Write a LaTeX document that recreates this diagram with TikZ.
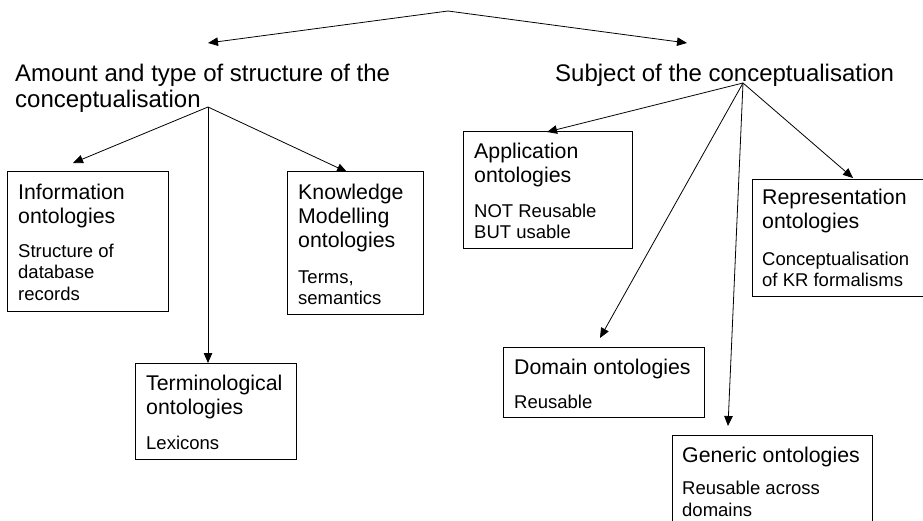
\documentclass[tikz,border=0pt]{standalone}
\usepackage{fontspec}
\setmainfont{Liberation Sans}
\usetikzlibrary{arrows.meta}
\begin{document}
\begin{tikzpicture}[x=1pt,y=-1pt,
  link/.style={line width=0.8pt, -{Triangle[length=10pt,width=8.5pt]}},
  catbox/.style={draw, line width=0.8pt, rectangle, inner sep=0pt, anchor=north west},
  % multi-line texts are placed by the baseline of their last line
  heading/.style={anchor=base west, inner sep=0pt, align=left, font=\fontsize{24}{26}\selectfont},
  boxtitle/.style={anchor=base west, inner sep=0pt, align=left, font=\fontsize{21.3}{24}\selectfont},
  boxnote/.style={anchor=base west, inner sep=0pt, align=left, font=\fontsize{18.5}{21.5}\selectfont}]

\useasboundingbox (0,0) rectangle (923,520);

% the two classification criteria
\node[heading] (amount) at (15,107) {Amount and type of structure of the\\conceptualisation};
\node[heading] (subject) at (555,81) {Subject of the conceptualisation};

% category boxes
\node[catbox, minimum width=161pt, minimum height=140pt] (info) at (7,171) {};
\node[catbox, minimum width=136pt, minimum height=143pt] (know) at (287,171) {};
\node[catbox, minimum width=161pt, minimum height=96pt]  (term) at (135,363) {};
\node[catbox, minimum width=169pt, minimum height=117pt] (appl) at (463,131) {};
\node[catbox, minimum width=180pt, minimum height=117pt] (repr) at (752,179) {};
\node[catbox, minimum width=201pt, minimum height=70pt]  (dom)  at (503,347) {};
\node[catbox, minimum width=200pt, minimum height=110pt] (gen)  at (672,435) {};

% box contents
\node[boxtitle] (infoT) at (18,223)  {Information\\ontologies};
\node[boxnote]  (infoN) at (18,300)  {Structure of\\database\\records};
\node[boxtitle] (knowT) at (298,247) {Knowledge\\Modelling\\ontologies};
\node[boxnote]  (knowN) at (298,304.5) {Terms,\\semantics};
\node[boxtitle] (termT) at (146,414) {Terminological\\ontologies};
\node[boxnote]  (termN) at (146,449) {Lexicons};
\node[boxtitle] (applT) at (474,182) {Application\\ontologies};
\node[boxnote]  (applN) at (474,238.5) {NOT Reusable\\BUT usable};
\node[boxtitle] (reprT) at (762,228) {Representation\\ontologies};
\node[boxnote]  (reprN) at (762,286.5) {Conceptualisation\\of KR formalisms};
\node[boxtitle] (domT)  at (514,374) {Domain ontologies};
\node[boxnote]  (domN)  at (514,408) {Reusable};
\node[boxtitle] (genT)  at (682,462) {Generic ontologies};
\node[boxnote]  (genN)  at (682,516) {Reusable across\\domains};

% branching points and arrow ends
\coordinate (apex) at (448,11);
\coordinate (ltip) at (208,43);
\coordinate (rtip) at (687,43);
\coordinate (lhub) at (208,107);
\coordinate (rhub) at (743,83);
\coordinate (infoTip) at (73,163);
\coordinate (termTip) at (208,363);
\coordinate (knowTip) at (347,172);
\coordinate (applTip) at (547,132);
\coordinate (reprTip) at (853,178);
\coordinate (domTip)  at (600,338);
\coordinate (genTip)  at (728,426);

% connectors
\draw[link] (apex) -- (ltip);
\draw[link] (apex) -- (rtip);
\draw[link] (lhub) -- (infoTip);
\draw[link] (lhub) -- (termTip);
\draw[link] (lhub) -- (knowTip);
\draw[link] (rhub) -- (applTip);
\draw[link] (rhub) -- (reprTip);
\draw[link] (rhub) -- (domTip);
\draw[link] (rhub) -- (genTip);
\end{tikzpicture}
\end{document}
